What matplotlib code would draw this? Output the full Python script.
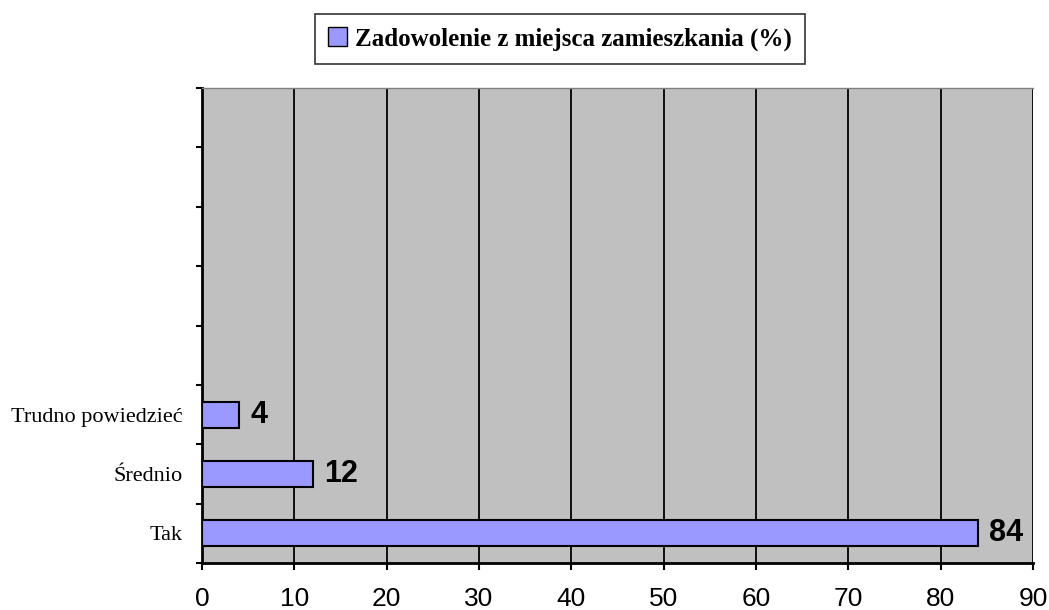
import matplotlib
matplotlib.use("Agg")
import matplotlib.pyplot as plt
from matplotlib.patches import Patch

categories = ["Tak", "Średnio", "Trudno powiedzieć"]
values = [84, 12, 4]
n_slots = 8
series_name = "Zadowolenie z miejsca zamieszkania (%)"
xticks = [0, 10, 20, 30, 40, 50, 60, 70, 80, 90]

fig = plt.figure(figsize=(10.49, 6.10), dpi=100)
ax = fig.add_axes([202/1049, 1 - 563/610, (1033-202)/1049, (563-88)/610])
ax.set_facecolor("#C0C0C0")

pos = list(range(len(categories)))
ax.barh(pos, values, height=0.44, color="#9999FF", edgecolor="black", linewidth=1.5, zorder=3)
for p, v in zip(pos, values):
    ax.text(v + 1.2, p, f"{v}", va="center", ha="left", fontsize=22, fontweight="bold",
            family="Liberation Sans", zorder=4)

ax.set_xlim(0, 90)
ax.set_ylim(-0.5, n_slots - 0.5)
ax.set_xticks(xticks)
ax.set_xticklabels([str(t) for t in xticks], fontsize=19, family="Liberation Sans")
ax.tick_params(axis="x", direction="out", length=5, width=1.5, pad=12)
ax.grid(axis="x", color="black", linewidth=1.3, zorder=1)

ax.set_yticks([i - 0.5 for i in range(n_slots + 1)])
ax.set_yticklabels([])
ax.set_yticks(pos, minor=True)
ax.set_yticklabels(categories, minor=True, fontsize=16, family="Liberation Serif")
ax.tick_params(axis="y", which="major", direction="out", length=4.5, width=1.5)
ax.tick_params(axis="y", which="minor", length=0, pad=14)

for s in ["left", "bottom"]:
    ax.spines[s].set_linewidth(2)
    ax.spines[s].set_color("black")
ax.spines["top"].set_color("#808080")
ax.spines["top"].set_linewidth(1)
ax.spines["right"].set_visible(False)

handle = Patch(facecolor="#9999FF", edgecolor="black", linewidth=1)
leg = fig.legend([handle], [series_name], loc="center", bbox_to_anchor=(560/1049, 1 - 39/610),
                 frameon=True, fancybox=False, edgecolor="black", handlelength=0.75, handleheight=0.75,
                 handletextpad=0.3, borderpad=0.55, borderaxespad=0,
                 prop={"family": "Liberation Serif", "weight": "bold", "size": 18})
leg.get_frame().set_linewidth(1.2)

fig.savefig("out.png", dpi=100)
